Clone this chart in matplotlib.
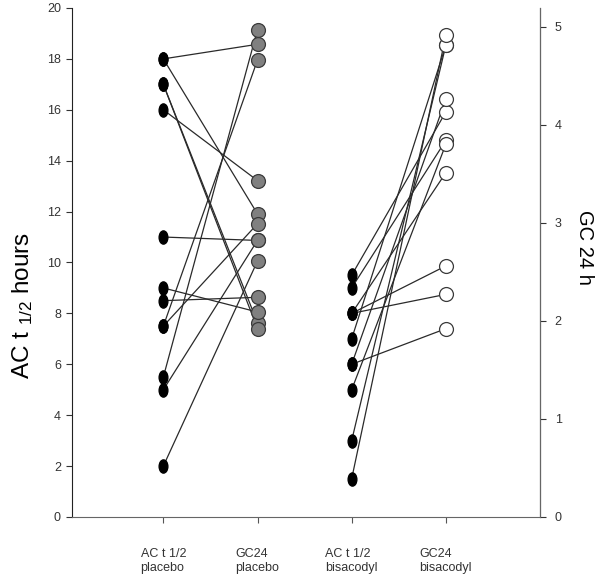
import matplotlib.pyplot as plt
from matplotlib.patches import ConnectionPatch
from matplotlib.path import Path
from matplotlib.transforms import Affine2D

plt.rcParams['font.family'] = ['Liberation Sans', 'DejaVu Sans']
plt.rcParams['mathtext.default'] = 'regular'

# category labels on the x axis
categories = ['AC t 1/2\nplacebo', 'GC24\nplacebo', 'AC t 1/2\nbisacodyl', 'GC24\nbisacodyl']

# placebo pairs: AC t1/2 (hours, left axis) -> GC 24 h (right axis)
ac_placebo = [18, 18, 17, 17, 16, 11, 9, 8.5, 7.5, 7.5, 5.5, 5, 2]
gc_placebo = [4.82, 3.09, 1.98, 1.92, 3.43, 2.82, 2.09, 2.24, 4.66, 2.99, 4.97, 2.82, 2.61]

# bisacodyl pairs
ac_bisacodyl = [9.5, 9, 8, 8, 8, 7, 6, 6, 5, 3, 1.5]
gc_bisacodyl = [4.13, 3.84, 2.56, 2.27, 3.51, 4.81, 4.26, 1.92, 3.80, 4.81, 4.91]

fig = plt.figure(figsize=(6.02, 5.79), dpi=100)
ax = fig.add_axes([0.1196, 0.1071, 0.7774, 0.8791])
ax2 = ax.twinx()

ax.set_xlim(0.03, 5.0)
ax.set_ylim(0, 20)
ax2.set_ylim(0, 5.19)

# tall black ellipse marker for AC t1/2
ellipse = Path.unit_circle().transformed(Affine2D().scale(0.66, 1.0))

def draw_group(x_ac, x_gc, ac, gc, gc_face):
    for a, g in zip(ac, gc):
        con = ConnectionPatch(xyA=(x_ac, a), coordsA=ax.transData,
                              xyB=(x_gc, g), coordsB=ax2.transData,
                              color='#2a2a2a', lw=0.9, zorder=2)
        ax.add_artist(con)
    ax.plot([x_ac] * len(ac), ac, ls='none', marker=ellipse, ms=9.5,
            mfc='black', mec='black', zorder=4, clip_on=False)
    ax.plot([x_gc] * len(gc), gc, ls='none', marker='o', ms=10,
            mfc=gc_face, mec='#3a3a3a', mew=0.9, zorder=4,
            transform=ax2.transData, clip_on=False)

draw_group(1, 2, ac_placebo, gc_placebo, '#808080')
draw_group(3, 4, ac_bisacodyl, gc_bisacodyl, 'white')

ax.set_xticks([1, 2, 3, 4])
ax.set_xticklabels(categories, fontsize=9, multialignment='left', linespacing=1.2)
ax.set_yticks(range(0, 21, 2))
ax2.set_yticks(range(0, 6))

for a in (ax, ax2):
    a.spines['top'].set_visible(False)
    a.tick_params(labelsize=9, labelcolor='#333333', color='#333333',
                  length=4.5, width=0.8)
ax.tick_params(axis='x', pad=18, color='#555555')
ax2.tick_params(axis='y', pad=6)
ax.spines['left'].set_color('#222222')
ax.spines['bottom'].set_color('#666666')
ax2.spines['right'].set_color('#666666')
ax2.spines['left'].set_visible(False)
ax2.spines['bottom'].set_visible(False)

ax.text(-0.106, 0.415, r'AC t $_{1/2}$ hours', rotation=90, ha='center', va='center',
        fontsize=17.5, transform=ax.transAxes)
ax2.text(1.096, 0.53, 'GC 24 h', rotation=270, ha='center', va='center',
         fontsize=14.5, transform=ax2.transAxes)

fig.savefig('out.png', dpi=100)
